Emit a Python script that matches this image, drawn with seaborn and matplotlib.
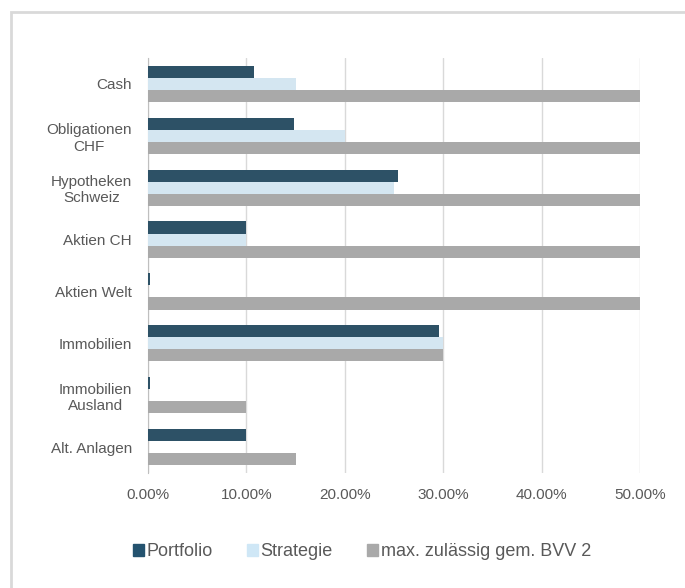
import pandas as pd
import matplotlib.pyplot as plt
import matplotlib.patches as mpatches
import seaborn as sns
from matplotlib.ticker import FuncFormatter

# data (percent)
categories = ["Cash", "Obligationen\nCHF", "Hypotheken\nSchweiz", "Aktien CH",
              "Aktien Welt", "Immobilien", "Immobilien\nAusland", "Alt. Anlagen"]
portfolio = [10.8, 14.8, 25.4, 10.0, 0.2, 29.6, 0.2, 10.0]
strategie = [15.0, 20.0, 25.0, 10.0, 0.0, 30.0, 0.0, 0.0]
max_bvv2 = [50.0, 50.0, 50.0, 50.0, 50.0, 30.0, 10.0, 15.0]
series = ["Portfolio", "Strategie", "max. zulässig gem. BVV 2"]
colors = ["#24536F", "#CFE7F6", "#A9A9A9"]

df = pd.DataFrame({
    "Kategorie": categories * 3,
    "Serie": [series[0]] * 8 + [series[1]] * 8 + [series[2]] * 8,
    "Wert": portfolio + strategie + max_bvv2,
})

sns.set_style("white")
plt.rcParams["font.family"] = ["Liberation Sans", "DejaVu Sans"]
txt = "#595959"

fig = plt.figure(figsize=(6.85, 5.88), dpi=100)
ax = fig.add_axes([148 / 685, 1 - 473 / 588, (640 - 148) / 685, (473 - 58) / 588])

sns.barplot(data=df, y="Kategorie", x="Wert", hue="Serie", palette=colors,
            orient="h", width=0.7, linewidth=0, ax=ax, legend=False, zorder=3)

ax.set_xlim(0, 50)
ax.set_ylim(7.5, -0.5)
ax.set_xticks([0, 10, 20, 30, 40, 50])
ax.xaxis.set_major_formatter(FuncFormatter(lambda v, p: f"{v:.2f}%"))
ax.grid(axis="x", color="#D9D9D9", linewidth=1, zorder=0)
for s in ["top", "right", "bottom"]:
    ax.spines[s].set_visible(False)
ax.spines["left"].set_color("#BFBFBF")
ax.set_xlabel("")
ax.set_ylabel("")
ax.tick_params(axis="both", length=0, colors=txt, labelsize=11)
ax.tick_params(axis="y", pad=11.5)
ax.tick_params(axis="x", pad=11)
for lab in ax.get_yticklabels():
    lab.set_multialignment("center")

# legend at the bottom
handles = [mpatches.Patch(color=c, label=s) for c, s in zip(colors, series)]
fig.legend(handles=handles, loc="center", bbox_to_anchor=(362 / 685, 1 - 552 / 588),
           ncol=3, frameon=False, fontsize=13, handlelength=0.6, handleheight=0.6,
           handletextpad=0.15, columnspacing=1.9, labelcolor=txt)

# chart frame
fig.patches.append(mpatches.Rectangle((11 / 685, -0.05), 1.0, 1 - 12 / 588 + 0.05,
                                      transform=fig.transFigure, fill=False,
                                      edgecolor="#D9D9D9", linewidth=2))

fig.savefig("out.png", dpi=100)
